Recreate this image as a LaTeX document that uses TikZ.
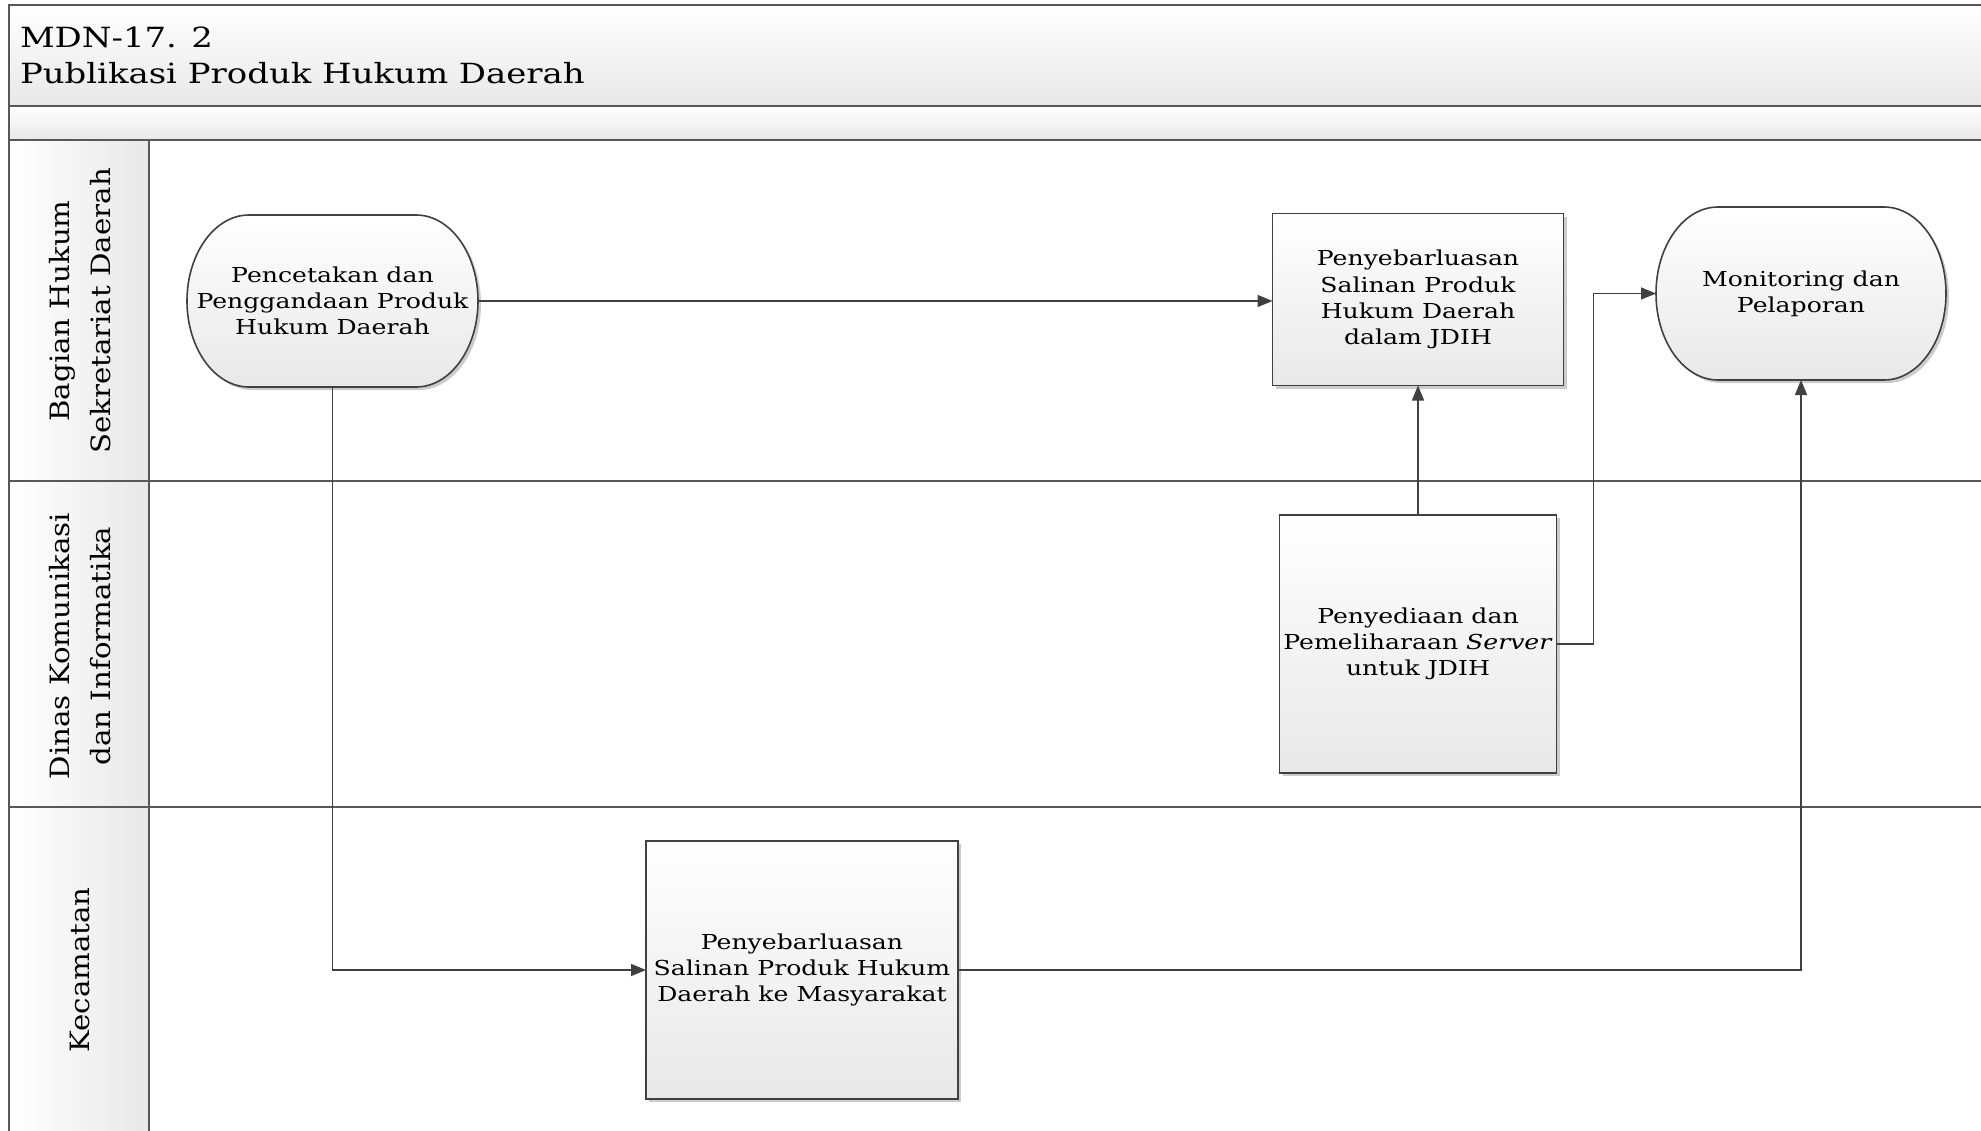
\documentclass[tikz,border=0pt]{standalone}
\usepackage{fontspec}
\setmainfont{DejaVu Serif}
\newfontfamily\wideserif[FakeStretch=1.22]{DejaVu Serif}
\newfontfamily\lanefam[FakeStretch=1.1]{DejaVu Serif}
\usetikzlibrary{arrows.meta,shadows}
\pgfdeclarelayer{pool}
\pgfdeclarelayer{shapes}
\pgfsetlayers{pool,shapes,main}
\definecolor{edgecol}{RGB}{64,64,64}
\definecolor{shadebot}{RGB}{232,232,232}
\definecolor{poolline}{RGB}{88,88,88}
\newcommand{\termoutline}[2]{%
  \begin{pgfonlayer}{shapes}
    \path[termshape] ([xshift=62pt]#1.north west) -- ([xshift=-62pt]#1.north east)
      arc[start angle=90,end angle=-90,x radius=62pt,y radius=#2]
      -- ([xshift=62pt]#1.south west)
      arc[start angle=270,end angle=90,x radius=62pt,y radius=#2] -- cycle;
  \end{pgfonlayer}}
\begin{document}
\begin{tikzpicture}[x=1pt,y=-1pt,
  every node/.style={inner sep=0pt,outer sep=0pt},
  nodefont/.style={font=\wideserif\fontsize{20.6}{26.3}\selectfont},
  procbox/.style={nodefont,draw=edgecol,line width=1.6pt,top color=white,bottom color=shadebot,
    drop shadow={shadow xshift=3pt,shadow yshift=-3pt,fill=black,opacity=0.2},align=center},
  termtext/.style={nodefont,align=center},
  termshape/.style={draw=edgecol,line width=1.6pt,top color=white,bottom color=shadebot,
    drop shadow={shadow xshift=3pt,shadow yshift=-3pt,fill=black,opacity=0.2}},
  conn/.style={draw=edgecol,line width=1.5pt,-{Triangle[length=15pt,width=12pt]}},
  poolrule/.style={draw=poolline,line width=2.2pt},
  bandfill/.style={top color=white,bottom color=shadebot},
  cellfill/.style={left color=white,right color=shadebot},
  lanelabel/.style={font=\lanefam\fontsize{26.6}{41}\selectfont,align=center,rotate=90},
  titlefont/.style={font=\wideserif\fontsize{27.8}{36}\selectfont}
]
\useasboundingbox (0,0) rectangle (1981,1130);

\begin{pgfonlayer}{pool}
  \fill[white] (0,0) rectangle (1981,1130);
  \path[bandfill] (9,5) rectangle (1995,106);
  \path[bandfill] (9,106) rectangle (1995,140);
  \path[cellfill] (9,140) rectangle (149,481);
  \path[cellfill] (9,481) rectangle (149,807);
  \path[cellfill] (9,807) rectangle (149,1140);
  \draw[poolrule] (9,1140) -- (9,5) -- (1995,5);
  \draw[poolrule] (9,106) -- (1995,106);
  \draw[poolrule] (9,140) -- (1995,140);
  \draw[poolrule] (9,481) -- (1995,481);
  \draw[poolrule] (9,807) -- (1995,807);
  \draw[poolrule] (149,140) -- (149,1140);
\end{pgfonlayer}

% title
\node[titlefont,anchor=base west] (t1) at (20,47) {MDN-17. 2};
\node[titlefont,anchor=base west] (t2) at (20,83) {Publikasi Produk Hukum Daerah};

% lane labels
\node[lanelabel] (l1) at (80,311) {Bagian Hukum\\Sekretariat Daerah};
\node[lanelabel] (l2) at (80,646) {Dinas Komunikasi\\dan Informatika};
\node[lanelabel] (l3) at (80,970) {Kecamatan};

% nodes
\node[termtext,minimum width=291pt,minimum height=172pt] (n1) at (332.5,301)
  {Pencetakan dan\\Penggandaan Produk\\Hukum Daerah};
\termoutline{n1}{86pt}
\node[procbox,minimum width=291pt,minimum height=172pt] (n2) at (1418,299.5)
  {Penyebarluasan\\Salinan Produk\\Hukum Daerah\\dalam JDIH};
\node[termtext,minimum width=290pt,minimum height=173pt] (n3) at (1801,293.5)
  {Monitoring dan\\Pelaporan};
\termoutline{n3}{86.5pt}
\node[procbox,minimum width=277pt,minimum height=258pt] (n4) at (1418,644)
  {Penyediaan dan\\Pemeliharaan \textit{Server}\\untuk JDIH};
\node[procbox,minimum width=312pt,minimum height=258pt] (n5) at (802,970)
  {Penyebarluasan\\Salinan Produk Hukum\\Daerah ke Masyarakat};

% connectors
\draw[conn] (n1.east) -- (n1.east -| n2.west);
\draw[conn] (n1.south) |- (n5.west);
\draw[conn] (n4.north) -- (n2.south);
\draw[conn] (n4.east) -- ++(37,0) |- (n3.west);
\draw[conn] (n5.east) -| (n3.south);
\end{tikzpicture}
\end{document}
